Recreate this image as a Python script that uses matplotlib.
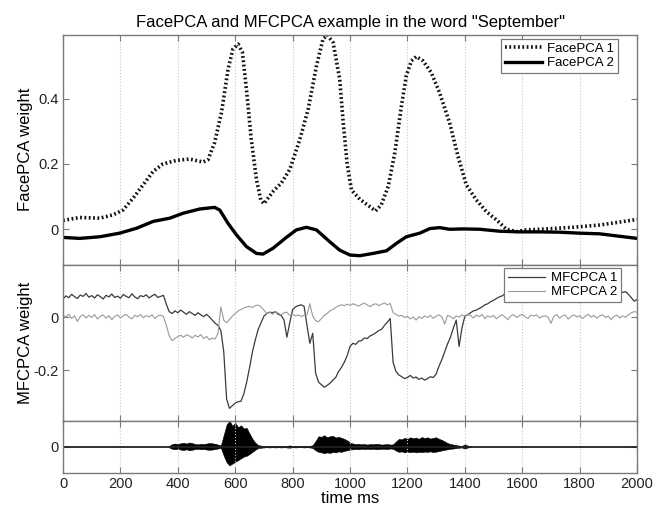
import numpy as np
import matplotlib
matplotlib.use('Agg')
import matplotlib.pyplot as plt

plt.rcParams['font.family'] = ['Liberation Sans', 'DejaVu Sans']

# FacePCA weights (ms, weight)
face_t1 = [0, 58, 128, 174, 209, 244, 279, 314, 348, 395, 441, 488, 505, 528, 552, 575, 592, 610, 625,
           639, 656, 674, 689, 700, 714, 732, 761, 790, 825, 854, 883, 906, 921, 941, 964, 976, 990,
           1005, 1034, 1068, 1089, 1109, 1133, 1156, 1179, 1196, 1214, 1231, 1254, 1283, 1312, 1347,
           1376, 1405, 1440, 1475, 1510, 1545, 1580, 1614, 1684, 1777, 1870, 1939, 2000]
face_pca1 = [0.027, 0.036, 0.034, 0.044, 0.059, 0.095, 0.136, 0.177, 0.200, 0.211, 0.215, 0.206, 0.213,
             0.265, 0.357, 0.490, 0.552, 0.567, 0.542, 0.429, 0.275, 0.152, 0.090, 0.078, 0.095, 0.116,
             0.142, 0.183, 0.275, 0.367, 0.500, 0.583, 0.595, 0.572, 0.460, 0.330, 0.200, 0.120, 0.092,
             0.070, 0.056, 0.075, 0.131, 0.234, 0.377, 0.470, 0.516, 0.529, 0.516, 0.480, 0.418, 0.326,
             0.224, 0.136, 0.090, 0.054, 0.029, 0.000, -0.007, -0.002, 0.001, 0.006, 0.013, 0.022, 0.030]

face_t2 = [0, 58, 128, 197, 256, 314, 372, 418, 476, 528, 546, 575, 604, 639, 674, 697, 732, 778, 813,
           848, 883, 929, 964, 1000, 1034, 1080, 1127, 1162, 1196, 1243, 1278, 1312, 1347, 1394, 1452,
           1521, 1591, 1661, 1731, 1800, 1870, 1916, 2000]
face_pca2 = [-0.025, -0.028, -0.023, -0.012, 0.003, 0.024, 0.034, 0.049, 0.062, 0.067, 0.059, 0.018,
             -0.017, -0.053, -0.074, -0.076, -0.058, -0.025, -0.002, 0.006, -0.002, -0.038, -0.064,
             -0.079, -0.081, -0.074, -0.066, -0.043, -0.023, -0.012, 0.002, 0.005, 0.000, 0.001, 0.000,
             -0.006, -0.008, -0.008, -0.009, -0.012, -0.014, -0.019, -0.028]

# MFCPCA weights, every 10 ms from 0 to 2000
mfc_t = np.arange(0, 2001, 10)
mfcpca1 = [
    0.070, 0.082, 0.075, 0.088, 0.079, 0.072, 0.085, 0.080, 0.091, 0.077,
    0.083, 0.074, 0.086, 0.079, 0.070, 0.084, 0.078, 0.089, 0.076, 0.081,
    0.073, 0.087, 0.080, 0.075, 0.090, 0.078, 0.071, 0.083, 0.079, 0.086,
    0.074, 0.082, 0.088, 0.076, 0.080, 0.084, 0.050, 0.022, 0.015, 0.025,
    0.018, 0.028, 0.020, 0.012, 0.022, 0.015, 0.008, 0.018, 0.010, 0.003,
    0.012, 0.002, -0.010, -0.022, -0.030, -0.050, -0.130, -0.310, -0.345, -0.335,
    -0.325, -0.320, -0.318, -0.290, -0.245, -0.190, -0.130, -0.085, -0.045, -0.020,
    0.005, 0.015, 0.020, 0.018, 0.022, 0.012, 0.008, -0.010, -0.075, -0.020,
    0.030, 0.040, 0.045, 0.048, 0.042, -0.030, -0.098, -0.060, -0.210, -0.245,
    -0.255, -0.265, -0.258, -0.250, -0.238, -0.228, -0.205, -0.190, -0.170, -0.145,
    -0.110, -0.098, -0.102, -0.090, -0.088, -0.078, -0.080, -0.070, -0.065, -0.058,
    -0.050, -0.045, -0.030, -0.018, -0.004, -0.170, -0.205, -0.218, -0.225, -0.232,
    -0.228, -0.220, -0.230, -0.226, -0.235, -0.230, -0.238, -0.232, -0.225, -0.228,
    -0.215, -0.185, -0.160, -0.130, -0.100, -0.075, -0.040, -0.010, -0.110, -0.040,
    0.005, 0.010, 0.018, 0.025, 0.028, 0.034, 0.040, 0.048, 0.052, 0.060,
    0.065, 0.072, 0.078, 0.082, 0.090, 0.095, 0.098, 0.102, 0.096, 0.105,
    0.100, 0.108, 0.098, 0.104, 0.110, 0.101, 0.097, 0.106, 0.112, 0.103,
    0.099, 0.108, 0.104, 0.111, 0.100, 0.106, 0.098, 0.109, 0.103, 0.107,
    0.112, 0.101, 0.105, 0.098, 0.108, 0.104, 0.110, 0.100, 0.106, 0.102,
    0.109, 0.097, 0.104, 0.108, 0.100, 0.095, 0.098, 0.088, 0.075, 0.062,
    0.068]
mfcpca2 = [
    0.008, 0.002, 0.012, -0.004, 0.006, -0.015, 0.004, 0.010, -0.002, 0.008,
    0.000, 0.011, -0.006, 0.005, 0.009, -0.003, 0.007, -0.008, 0.004, 0.010,
    -0.002, 0.006, 0.012, 0.001, -0.005, 0.008, 0.003, 0.011, -0.001, 0.007,
    0.002, 0.010, -0.004, 0.006, 0.009, 0.003, -0.030, -0.070, -0.088, -0.080,
    -0.072, -0.068, -0.075, -0.066, -0.070, -0.078, -0.068, -0.074, -0.065, -0.080,
    -0.072, -0.085, -0.078, -0.082, -0.060, 0.040, -0.010, -0.020, -0.008, 0.005,
    0.015, 0.025, 0.030, 0.036, 0.040, 0.042, 0.038, 0.045, 0.047, 0.040,
    0.028, 0.015, 0.020, 0.012, 0.022, 0.016, 0.010, 0.018, 0.020, 0.008,
    0.012, 0.006, 0.010, 0.004, 0.008, 0.010, 0.052, 0.005, -0.012, -0.016,
    -0.005, 0.008, 0.015, 0.025, 0.030, 0.038, 0.044, 0.048, 0.045, 0.050,
    0.046, 0.052, 0.048, 0.043, 0.050, 0.054, 0.047, 0.041, 0.049, 0.052,
    0.045, 0.050, 0.055, 0.048, 0.053, 0.018, 0.012, 0.005, 0.008, 0.000,
    0.004, -0.006, 0.002, -0.010, 0.003, -0.004, 0.006, 0.000, 0.008, -0.003,
    0.005, 0.010, 0.002, -0.025, 0.008, 0.003, -0.005, 0.006, 0.001, 0.010,
    0.004, 0.012, 0.007, -0.002, 0.009, 0.003, 0.011, -0.004, 0.006, 0.001,
    0.008, -0.005, 0.004, 0.010, 0.002, -0.008, 0.006, 0.011, 0.000, 0.007,
    0.012, 0.003, -0.004, 0.009, 0.005, 0.010, -0.002, 0.004, 0.006, 0.001,
    -0.022, 0.004, 0.011, -0.003, 0.006, 0.009, -0.006, 0.004, 0.010, 0.002,
    0.007, -0.004, 0.005, 0.012, 0.001, 0.008, -0.003, 0.006, 0.010, 0.000,
    0.005, -0.008, 0.004, 0.009, -0.002, 0.006, 0.001, 0.010, 0.018, 0.022,
    0.020]

# speech waveform envelope, every 10 ms from 370 to 1420
wave_t = np.arange(370, 1421, 10)
wave_top = [
    0.03, 0.10, 0.12, 0.10, 0.13, 0.15, 0.12, 0.16, 0.14, 0.10,
    0.09, 0.11, 0.10, 0.12, 0.14, 0.13, 0.11, 0.08, 0.05, 0.45,
    0.85, 1.00, 0.80, 0.92, 0.75, 0.82, 0.70, 0.72, 0.50, 0.30,
    0.15, 0.06, 0.04, 0.03, 0.02, 0.03, 0.02, 0.03, 0.02, 0.03,
    0.02, 0.03, 0.05, 0.02, 0.03, 0.02, 0.02, 0.03, 0.02, 0.03,
    0.06, 0.22, 0.40, 0.38, 0.44, 0.36, 0.40, 0.42, 0.35, 0.38,
    0.34, 0.30, 0.24, 0.16, 0.12, 0.10, 0.11, 0.09, 0.10, 0.08,
    0.10, 0.09, 0.11, 0.10, 0.08, 0.09, 0.10, 0.08, 0.09, 0.20,
    0.30, 0.28, 0.34, 0.30, 0.36, 0.32, 0.35, 0.30, 0.37, 0.33,
    0.36, 0.31, 0.34, 0.36, 0.30, 0.26, 0.20, 0.14, 0.10, 0.08,
    0.06, 0.04, 0.03, 0.09, 0.04, 0.02]
wave_bot = [
    -0.03, -0.08, -0.10, -0.09, -0.11, -0.13, -0.10, -0.14, -0.12, -0.09,
    -0.08, -0.10, -0.09, -0.11, -0.12, -0.11, -0.09, -0.07, -0.05, -0.35,
    -0.60, -0.72, -0.65, -0.58, -0.52, -0.45, -0.38, -0.35, -0.28, -0.20,
    -0.12, -0.05, -0.04, -0.03, -0.02, -0.03, -0.02, -0.03, -0.02, -0.03,
    -0.02, -0.03, -0.04, -0.02, -0.03, -0.02, -0.02, -0.03, -0.02, -0.03,
    -0.05, -0.14, -0.20, -0.22, -0.25, -0.22, -0.24, -0.20, -0.22, -0.18,
    -0.20, -0.16, -0.14, -0.11, -0.10, -0.09, -0.10, -0.08, -0.09, -0.08,
    -0.09, -0.08, -0.10, -0.09, -0.08, -0.08, -0.09, -0.07, -0.08, -0.15,
    -0.20, -0.18, -0.22, -0.20, -0.21, -0.19, -0.22, -0.20, -0.21, -0.19,
    -0.20, -0.18, -0.21, -0.19, -0.17, -0.14, -0.12, -0.10, -0.08, -0.07,
    -0.05, -0.04, -0.03, -0.08, -0.03, -0.02]

xticks = list(range(0, 2001, 200))
edge = '#7a7a7a'


def style_axes(ax):
    ax.set_xlim(0, 2000)
    ax.set_xticks(xticks)
    ax.grid(True, axis='x', color='#c8c8c8', linestyle=':', linewidth=0.8)
    ax.tick_params(direction='in', top=True, right=True, length=4, color=edge,
                   labelsize=10.5, pad=3, labelcolor='#222222')
    for s in ax.spines.values():
        s.set_color(edge)
        s.set_linewidth(1.0)


fig = plt.figure(figsize=(6.6, 5.05), dpi=100)
ax1 = fig.add_axes([0.0955, 0.4762, 0.8697, 0.4545])
ax2 = fig.add_axes([0.0955, 0.1669, 0.8697, 0.3093])
ax3 = fig.add_axes([0.0955, 0.0640, 0.8697, 0.1030])

# top: FacePCA
ax1.plot(face_t1, face_pca1, color='#111111', linestyle=(0, (0.5, 0.7)), linewidth=2.6,
         label='FacePCA 1')
ax1.plot(face_t2, face_pca2, color='black', linestyle='-', linewidth=2.4, label='FacePCA 2')
style_axes(ax1)
ax1.set_ylim(-0.108, 0.595)
ax1.set_yticks([0, 0.2, 0.4])
ax1.set_yticklabels(['0', '0.2', '0.4'])
ax1.tick_params(labelbottom=False)
ax1.set_ylabel('FacePCA weight', fontsize=12)
ax1.yaxis.set_label_coords(-0.052, 0.5)
ax1.set_title('FacePCA and MFCPCA example in the word "September"', fontsize=12, pad=6)
leg1 = ax1.legend(loc='upper right', bbox_to_anchor=(0.967, 0.983), borderaxespad=0,
                  fontsize=9.5, fancybox=False, framealpha=1, handlelength=2.8, borderpad=0.3,
                  labelspacing=0.15, handletextpad=0.4)
leg1.get_frame().set_edgecolor(edge)
leg1.get_frame().set_linewidth(0.9)

# middle: MFCPCA
ax2.plot(mfc_t, mfcpca1, color='#3a3a3a', linewidth=0.9, label='MFCPCA 1')
ax2.plot(mfc_t, mfcpca2, color='#9a9a9a', linewidth=0.8, label='MFCPCA 2')
style_axes(ax2)
ax2.set_ylim(-0.392, 0.201)
ax2.set_yticks([0, -0.2])
ax2.set_yticklabels(['0', '-0.2'])
ax2.tick_params(labelbottom=False)
ax2.set_ylabel('MFCPCA weight', fontsize=12)
ax2.yaxis.set_label_coords(-0.052, 0.5)
leg2 = ax2.legend(loc='upper right', bbox_to_anchor=(0.972, 0.978), borderaxespad=0,
                  fontsize=9.5, fancybox=False, framealpha=1, handlelength=2.8, borderpad=0.3,
                  labelspacing=0.15, handletextpad=0.4)
leg2.get_frame().set_edgecolor(edge)
leg2.get_frame().set_linewidth(0.9)

# bottom: speech waveform
ax3.axhline(0, color='#222222', linewidth=1.3)
ax3.fill_between(wave_t, wave_bot, wave_top, color='black', linewidth=0.4)
style_axes(ax3)
ax3.set_ylim(-1.0, 1.0)
ax3.set_yticks([0])
ax3.set_yticklabels(['0'])
ax3.set_xlabel('time ms', fontsize=12, labelpad=0)

fig.savefig('out.png', dpi=100)
